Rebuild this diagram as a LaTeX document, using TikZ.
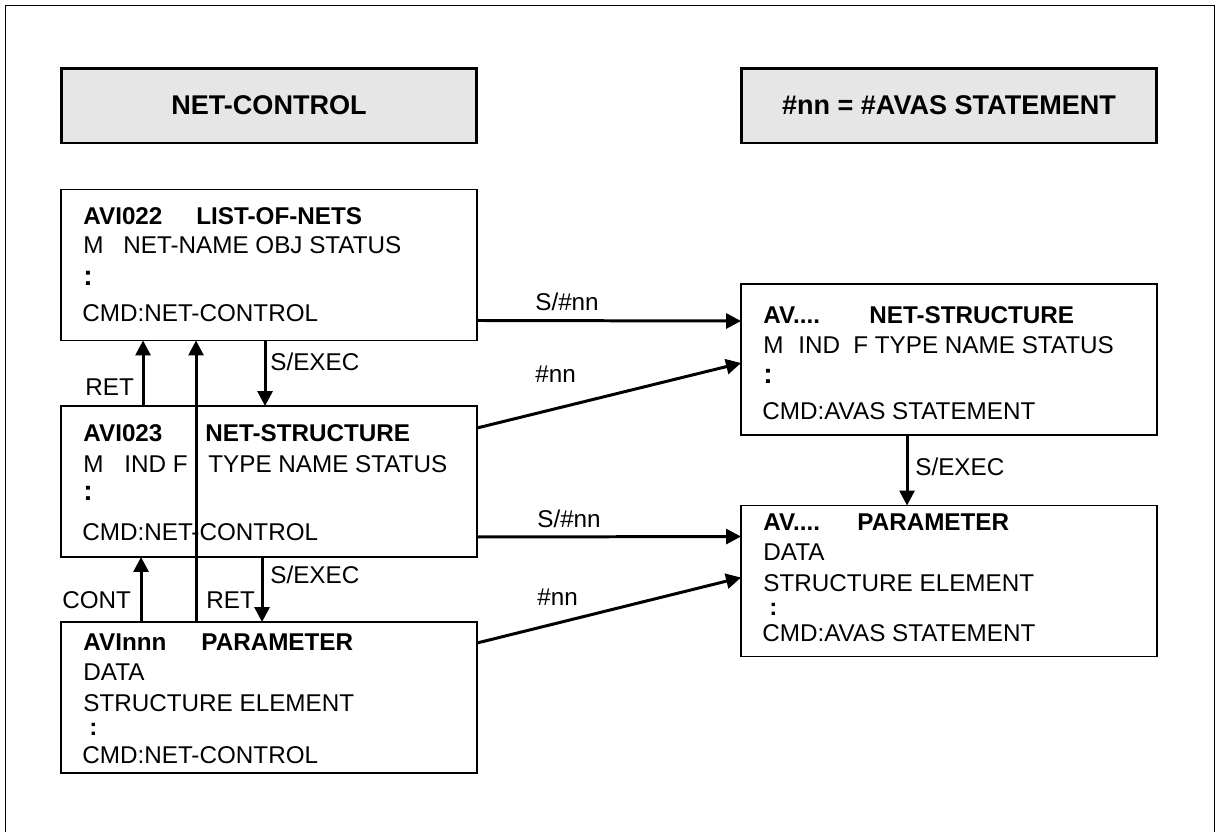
\documentclass[tikz,border=0pt]{standalone}
\usepackage{fontspec}
\setmainfont{Liberation Sans}
\usetikzlibrary{arrows.meta}
\usetikzlibrary{calc}
\definecolor{headgray}{HTML}{E6E6E6}

\begin{document}
\begin{tikzpicture}[x=0.02cm, y=-0.02cm,
    screen/.style={draw, line width=1.1pt, minimum width=8.32cm, minimum height=3.02cm, inner sep=0pt, outer sep=0pt},
    head/.style={draw, line width=1.7pt, fill=headgray, minimum width=8.32cm, minimum height=1.5cm, inner sep=0pt, font=\fontsize{15.4}{18}\selectfont\bfseries},
    txt/.style={anchor=base west, inner sep=0pt, font=\fontsize{13.8}{16}\selectfont},
    arr/.style={line width=1.7pt, -{Triangle[length=0.3cm, width=0.3cm]}}]
  \def\tabcol#1#2{\makebox[#1][l]{#2}}
  \def\bigcolon{{\fontsize{16}{16}\selectfont\bfseries :}}
  \useasboundingbox (0,0) rectangle (1218,832);
  \draw[line width=0.5pt] (5,840) -- (5,5) -- (1214,5) -- (1214,840);

  % headers
  \node[head] (hleft) at (269,105.5) {NET-CONTROL};
  \node[head] (hright) at (949,105.5) {\#nn = \#AVAS STATEMENT};

  % screens
  \node[screen] (nets) at (269,265) {};
  \node[screen] (struct) at (269,481.5) {};
  \node[screen] (param) at (269,697.5) {};
  \node[screen] (avstruct) at (949,359.5) {};
  \node[screen] (avparam) at (949,581) {};

  \node[txt] (nets1) at ($(nets.north west)+(22,35)$) {\bfseries\tabcol{2.26cm}{AVI022}LIST-OF-NETS};
  \node[txt] (nets2) at ($(nets.north west)+(22,64)$) {\tabcol{0.8cm}{M}NET-NAME OBJ STATUS};
  \node[txt] (nets3) at ($(nets.north west)+(22,96)$) {\bigcolon};
  \node[txt] (nets4) at ($(nets.north west)+(21,132)$) {CMD:NET-CONTROL};

  \node[txt] (struct1) at ($(struct.north west)+(22,35)$) {\bfseries\tabcol{2.44cm}{AVI023}NET-STRUCTURE};
  \node[txt] (struct2) at ($(struct.north west)+(22,66)$) {\tabcol{0.82cm}{M}\tabcol{1.68cm}{IND F}TYPE NAME STATUS};
  \node[txt] (struct3) at ($(struct.north west)+(22,94)$) {\bigcolon};
  \node[txt] (struct4) at ($(struct.north west)+(21,134)$) {CMD:NET-CONTROL};

  \node[txt] (param1) at ($(param.north west)+(22,28)$) {\bfseries\tabcol{2.36cm}{AVInnn}PARAMETER};
  \node[txt] (param2) at ($(param.north west)+(22,58)$) {DATA};
  \node[txt] (param3) at ($(param.north west)+(22,89)$) {STRUCTURE ELEMENT};
  \node[txt] (param4) at ($(param.north west)+(28,113)$) {\textbf{:}};
  \node[txt] (param5) at ($(param.north west)+(21,141)$) {CMD:NET-CONTROL};

  \node[txt] (avstruct1) at ($(avstruct.north west)+(22,39)$) {\bfseries\tabcol{2.12cm}{AV....}NET-STRUCTURE};
  \node[txt] (avstruct2) at ($(avstruct.north west)+(22,69)$) {\tabcol{0.7cm}{M}\tabcol{1.1cm}{IND}F TYPE NAME STATUS};
  \node[txt] (avstruct3) at ($(avstruct.north west)+(22,99)$) {\bigcolon};
  \node[txt] (avstruct4) at ($(avstruct.north west)+(21,135)$) {CMD:AVAS STATEMENT};

  \node[txt] (avparam1) at ($(avparam.north west)+(22,25)$) {\bfseries\tabcol{1.88cm}{AV....}PARAMETER};
  \node[txt] (avparam2) at ($(avparam.north west)+(22,55)$) {DATA};
  \node[txt] (avparam3) at ($(avparam.north west)+(22,86)$) {STRUCTURE ELEMENT};
  \node[txt] (avparam4) at ($(avparam.north west)+(28,110)$) {\textbf{:}};
  \node[txt] (avparam5) at ($(avparam.north west)+(21,136)$) {CMD:AVAS STATEMENT};

  % connectors
  \draw[arr] ($(nets.south east)+(0,-20)$) -- ($(avstruct.north west)+(0,37)$);
  \draw[arr] ($(struct.north east)+(0,22)$) -- ($(avstruct.north west)+(0,79)$);
  \draw[arr] ($(struct.south east)+(0,-20)$) -- ($(avparam.north west)+(0,31)$);
  \draw[arr] ($(param.north east)+(0,21)$) -- ($(avparam.north west)+(0,72)$);

  \draw[arr] ($(nets.south west)+(204,0)$) -- ($(struct.north west)+(204,0)$);
  \draw[arr] ($(struct.north west)+(82,0)$) -- ($(nets.south west)+(82,0)$);
  \draw[arr] ($(param.north west)+(135,0)$) -- ($(nets.south west)+(135,0)$);
  \draw[arr] ($(param.north west)+(80,0)$) -- ($(struct.south west)+(80,0)$);
  \draw[arr] ($(struct.south west)+(201,0)$) -- ($(param.north west)+(201,0)$);
  \draw[arr] ($(avstruct.south west)+(166,0)$) -- ($(avparam.north west)+(166,0)$);

  \node[txt] (snn1) at (535,310) {S/\#nn};
  \node[txt] (nn1) at (535,382) {\#nn};
  \node[txt] (snn2) at (537,527) {S/\#nn};
  \node[txt] (nn2) at (537,605) {\#nn};
  \node[txt] (exec1) at (270,370) {S/EXEC};
  \node[txt] (exec2) at (270,583) {S/EXEC};
  \node[txt] (exec3) at (915,475) {S/EXEC};
  \node[txt] (ret1) at (85,395) {RET};
  \node[txt] (ret2) at (206,608) {RET};
  \node[txt] (cont) at (62,608) {CONT};
\end{tikzpicture}
\end{document}
